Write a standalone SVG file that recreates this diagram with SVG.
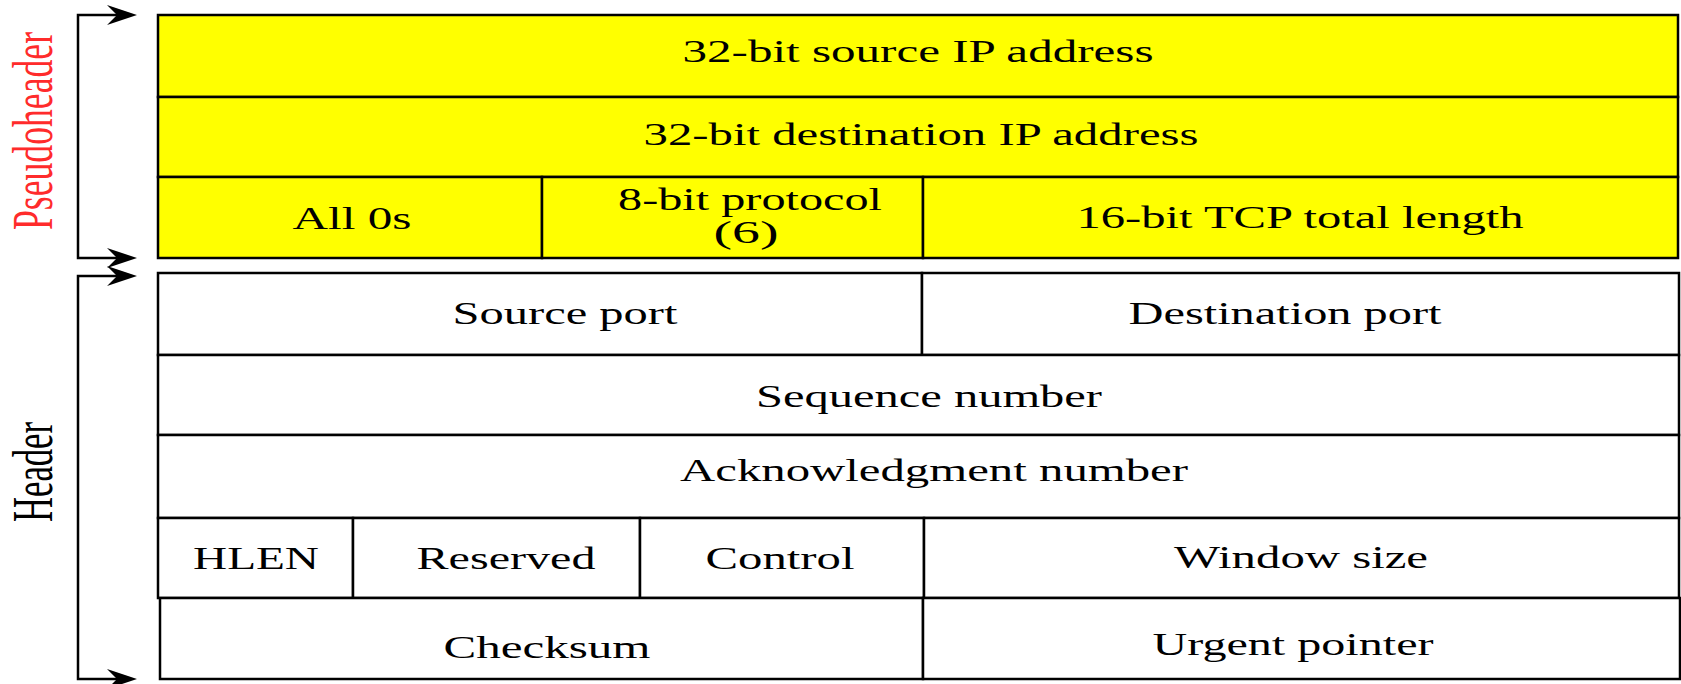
<svg xmlns="http://www.w3.org/2000/svg" width="1681" height="684" viewBox="0 0 1681 684">
  <style>
    .cell { stroke: #000; stroke-width: 2.5; }
    .pseudo { fill: #ffff00; }
    .hdr { fill: #ffffff; }
    .lbl { font-family: "Liberation Serif", "Times New Roman", serif; font-size: 32px; fill: #000; text-anchor: middle; }
    .side { font-family: "Liberation Serif", "Times New Roman", serif; font-size: 36px; text-anchor: middle; }
    .bracket { fill: none; stroke: #000; stroke-width: 2.5; marker-start: url(#head); marker-end: url(#head); }
  </style>
  <defs>
    <marker id="head" viewBox="-15 -11 35 22" refX="0" refY="0" markerWidth="35" markerHeight="22" markerUnits="userSpaceOnUse" orient="auto-start-reverse">
      <path d="M17,0 L-13,-10 L-3,0 L-13,10 Z" fill="#000"/>
    </marker>
  </defs>
  <rect width="1681" height="684" fill="#ffffff"/>

  <!-- pseudoheader fields -->
  <g id="src-ip">
    <rect class="cell pseudo" x="158" y="15" width="1520" height="82"/>
    <text class="lbl" x="918" y="62" textLength="471" lengthAdjust="spacingAndGlyphs">32-bit source IP address</text>
  </g>
  <g id="dst-ip">
    <rect class="cell pseudo" x="158" y="97" width="1520" height="80"/>
    <text class="lbl" x="921" y="145" textLength="555" lengthAdjust="spacingAndGlyphs">32-bit destination IP address</text>
  </g>
  <g id="zeros">
    <rect class="cell pseudo" x="158" y="177" width="384" height="81"/>
    <text class="lbl" x="352" y="229" textLength="119" lengthAdjust="spacingAndGlyphs">All 0s</text>
  </g>
  <g id="protocol">
    <rect class="cell pseudo" x="542" y="177" width="381" height="81"/>
    <text class="lbl" x="750" y="210" textLength="264" lengthAdjust="spacingAndGlyphs">8-bit protocol</text>
    <text class="lbl" x="746" y="243" textLength="65" lengthAdjust="spacingAndGlyphs">(6)</text>
  </g>
  <g id="tcp-length">
    <rect class="cell pseudo" x="923" y="177" width="755" height="81"/>
    <text class="lbl" x="1300" y="228" textLength="447" lengthAdjust="spacingAndGlyphs">16-bit TCP total length</text>
  </g>

  <!-- TCP header fields -->
  <g id="src-port">
    <rect class="cell hdr" x="158" y="273" width="764" height="82"/>
    <text class="lbl" x="565" y="324" textLength="225" lengthAdjust="spacingAndGlyphs">Source port</text>
  </g>
  <g id="dst-port">
    <rect class="cell hdr" x="922" y="273" width="757" height="82"/>
    <text class="lbl" x="1285" y="324" textLength="313" lengthAdjust="spacingAndGlyphs">Destination port</text>
  </g>
  <g id="seq">
    <rect class="cell hdr" x="158" y="355" width="1521" height="80"/>
    <text class="lbl" x="929" y="407" textLength="346" lengthAdjust="spacingAndGlyphs">Sequence number</text>
  </g>
  <g id="ack">
    <rect class="cell hdr" x="158" y="435" width="1521" height="83"/>
    <text class="lbl" x="934" y="481" textLength="508" lengthAdjust="spacingAndGlyphs">Acknowledgment number</text>
  </g>
  <g id="hlen">
    <rect class="cell hdr" x="158" y="518" width="195" height="80"/>
    <text class="lbl" x="256" y="569" textLength="126" lengthAdjust="spacingAndGlyphs">HLEN</text>
  </g>
  <g id="reserved">
    <rect class="cell hdr" x="353" y="518" width="287" height="80"/>
    <text class="lbl" x="506" y="569" textLength="179" lengthAdjust="spacingAndGlyphs">Reserved</text>
  </g>
  <g id="control">
    <rect class="cell hdr" x="640" y="518" width="284" height="80"/>
    <text class="lbl" x="780" y="569" textLength="149" lengthAdjust="spacingAndGlyphs">Control</text>
  </g>
  <g id="window">
    <rect class="cell hdr" x="924" y="518" width="755" height="80"/>
    <text class="lbl" x="1301" y="568" textLength="254" lengthAdjust="spacingAndGlyphs">Window size</text>
  </g>
  <g id="checksum">
    <rect class="cell hdr" x="160" y="598" width="763" height="81"/>
    <text class="lbl" x="547" y="658" textLength="207" lengthAdjust="spacingAndGlyphs">Checksum</text>
  </g>
  <g id="urgent">
    <rect class="cell hdr" x="923" y="598" width="757" height="81"/>
    <text class="lbl" x="1293" y="655" textLength="281" lengthAdjust="spacingAndGlyphs">Urgent pointer</text>
  </g>

  <!-- side labels -->
  <g id="label-pseudoheader">
    <text class="side" fill="#ff2b2b" transform="translate(52,131) scale(1.6,1) rotate(-90)" textLength="198" lengthAdjust="spacingAndGlyphs">Pseudoheader</text>
  </g>
  <g id="label-header">
    <text class="side" fill="#000" transform="translate(52,472) scale(1.6,1) rotate(-90)" textLength="100" lengthAdjust="spacingAndGlyphs">Header</text>
  </g>

  <!-- span brackets -->
  <g id="connectors">
    <path class="bracket" d="M120,15 H78 V258 H120"/>
    <path class="bracket" d="M120,276 H78 V679 H120"/>
  </g>
</svg>
